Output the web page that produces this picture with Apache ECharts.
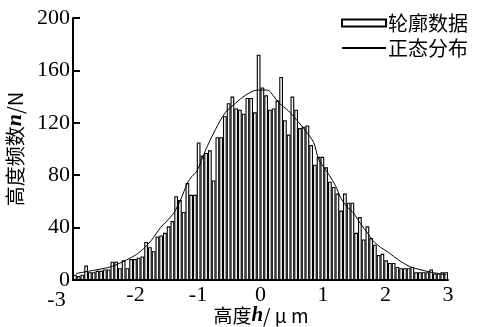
<!DOCTYPE html>
<html>
<head>
<meta charset="utf-8">
<script src="https://cdn.jsdelivr.net/npm/echarts@6/dist/echarts.min.js"></script>
<style>
  html, body { margin: 0; padding: 0; background: #fff; }
  #chart { width: 483px; height: 327px; }
</style>
</head>
<body>
<div id="chart"></div>
<script>
// 直方图: 100 个区间, 中心从 -2.97 到 2.97
const binStart = -2.97
const binStep = 0.06
const counts = [
  4, 3, 4, 11, 6, 6, 7, 7, 8, 8,
  14, 14, 9, 15, 9, 16, 16, 17, 18, 29,
  25, 22, 33, 34, 36, 41, 45, 64, 61, 52,
  74, 65, 65, 105, 95, 97, 99, 76, 109, 109,
  125, 135, 140, 131, 130, 127, 139, 139, 128, 172,
  147, 141, 130, 131, 137, 155, 122, 111, 140, 130,
  116, 117, 118, 103, 88, 94, 94, 86, 75, 71,
  66, 53, 66, 59, 59, 36, 48, 31, 41, 32,
  27, 19, 20, 15, 13, 13, 10, 9, 9, 9,
  10, 6, 6, 6, 6, 8, 5, 5, 6, 6
]

// 正态分布曲线
const curveX = [-2.95, -2.6, -2.4, -2.2, -2.0, -1.87, -1.75, -1.6, -1.5, -1.39,
  -1.28, -1.17, -1.1, -1.02, -0.88, -0.72, -0.56, -0.4, -0.24, -0.05,
  0.11, 0.2, 0.3, 0.45, 0.6, 0.72, 0.85, 0.93, 1.0, 1.1,
  1.2, 1.28, 1.38, 1.49, 1.6, 1.71, 1.8, 1.92, 2.05, 2.13,
  2.25, 2.4, 2.55, 2.72, 2.85, 2.97]
const curveY = [5, 8, 10, 14, 19, 24, 30, 40, 45, 51,
  61, 74, 79, 83, 99, 115, 128, 135, 141, 145,
  145, 141, 135, 129, 121, 114, 105, 92, 87, 80,
  72, 63, 56, 51, 43, 36, 30, 25, 21, 18,
  14, 10, 8, 6, 5, 4]

const xTicks = [-3, -2, -1, 0, 1, 2, 3]
const yTicks = [0, 40, 80, 120, 160, 200]

const barData = counts.map((c, i) => [+(binStart + i * binStep).toFixed(2), c])
const curveData = curveX.map((x, i) => [x, curveY[i]])

const chart = echarts.init(document.getElementById('chart'))

const numFont = 'Liberation Serif'
const cjkFont = 'Noto Sans CJK SC'
const italicH = { fontFamily: numFont, fontStyle: 'italic', fontWeight: 'bold', fontSize: 21, fill: '#000', color: '#000' }

chart.setOption({
  animation: false,
  grid: { left: 73, right: 35, top: 18, bottom: 47, outerBoundsMode: 'none' },
  legend: {
    orient: 'vertical',
    left: 336,
    top: 8,
    itemWidth: 44,
    itemHeight: 7,
    itemGap: 5,
    textStyle: { fontFamily: cjkFont, fontSize: 20, color: '#000', padding: [0, 0, 0, -3] },
    data: [
      { name: '轮廓数据', icon: 'rect', itemStyle: { borderWidth: 2, borderColor: '#000', color: '#fff' } },
      // 只画一条线, 不要圆点
      { name: '正态分布', icon: 'path://M0,0 M0,2.5 L44,2.5 L44,4.5 L0,4.5 Z M44,7' }
    ]
  },
  // x 轴标题 (放在刻度标签下面)
  graphic: [
    {
      type: 'text',
      x: 261,
      y: 316,
      style: {
        text: '高度{i|h}/ μ m',
        align: 'center',
        verticalAlign: 'middle',
        font: '19px "Noto Sans CJK SC"',
        fill: '#000',
        rich: { i: italicH }
      }
    }
  ],
  xAxis: {
    type: 'value',
    position: 'bottom',
    min: -3,
    max: 3,
    interval: 1,
    splitLine: { show: false },
    axisTick: { show: false },
    axisLine: { show: true, onZero: false, lineStyle: { color: '#000', width: 2 } },
    axisLabel: {
      fontFamily: numFont, fontSize: 22, color: '#000', margin: 4,
      formatter: v => v === -3 ? '{m|-3}' : String(v),
      rich: { m: { fontFamily: numFont, fontSize: 22, color: '#000', padding: [5, 33, 0, 0] } }
    }
  },
  yAxis: {
    type: 'value',
    position: 'left',
    min: 0,
    max: 200,
    interval: 40,
    name: '高度频数{i|n}/N',
    nameLocation: 'middle',
    nameGap: 40,
    nameTextStyle: {
      fontFamily: cjkFont, fontSize: 20, color: '#000',
      rich: { i: { fontFamily: numFont, fontStyle: 'italic', fontWeight: 'bold', fontSize: 22, color: '#000' } }
    },
    splitLine: { show: false },
    axisLine: { show: true, onZero: false, lineStyle: { color: '#000', width: 2 } },
    axisTick: { show: true, inside: true, length: 7, lineStyle: { color: '#000', width: 2 } },
    axisLabel: {
      fontFamily: numFont, fontSize: 22, color: '#000', margin: 3,
      formatter: v => yTicks.includes(v) ? String(v) : ''
    }
  },
  series: [
    {
      name: '轮廓数据',
      type: 'bar',
      data: barData,
      barWidth: 3.75,
      itemStyle: { color: '#fff', borderColor: '#000', borderWidth: 1.1 },
      // 左侧纵轴线, 以防轴线没画出来
      markLine: {
        silent: true,
        symbol: 'none',
        label: { show: false },
        lineStyle: { color: '#000', width: 2, type: 'solid' },
        data: [{ xAxis: -3 }]
      }
    },
    {
      name: '正态分布',
      type: 'line',
      data: curveData,
      smooth: 0.3,
      symbol: 'none',
      lineStyle: { color: '#000', width: 1 },
      itemStyle: { color: '#000' }
    }
  ]
})

window.addEventListener('resize', () => chart.resize())
</script>
</body>
</html>
